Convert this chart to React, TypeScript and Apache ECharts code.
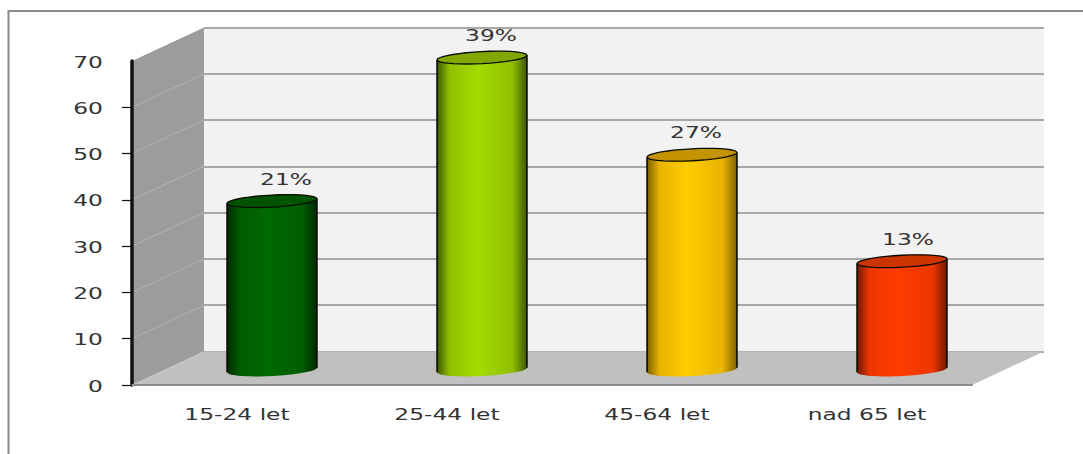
import React, { useEffect, useRef } from "react";
import * as echarts from "echarts";

const categories = ["15-24 let", "25-44 let", "45-64 let", "nad 65 let"];
const values = [36.5, 67.5, 46.5, 23.5];
const valueLabels = ["21%", "39%", "27%", "13%"];
const yTicks = [0, 10, 20, 30, 40, 50, 60, 70];

const edgeColors = ["#002a00", "#3f5800", "#7f6000", "#701800"];
const midColors = ["#005c00", "#8fc000", "#e8b400", "#ee3600"];
const brightColors = ["#006a00", "#a4dc00", "#ffcc00", "#ff3c00"];
const capColors = ["#005400", "#80a800", "#c49400", "#cc3400"];

const labelShiftX = [14, 9, 4, 6];
const DEPTH_X = 72;
const DEPTH_Y = 33.5;
const STRETCH = 1.46;
const FONT = '16px "DejaVu Sans"';
const TILT = (-3 * Math.PI) / 180;

function ellipsePoint(cx: number, cy: number, rx: number, ry: number, t: number) {
  const ex = rx * Math.cos(t);
  const ey = ry * Math.sin(t);
  return [cx + ex * Math.cos(TILT) - ey * Math.sin(TILT), cy + ex * Math.sin(TILT) + ey * Math.cos(TILT)];
}

function arc(cx: number, cy: number, rx: number, ry: number, from: number, to: number) {
  const pts: number[][] = [];
  const n = 36;
  for (let i = 0; i <= n; i++) pts.push(ellipsePoint(cx, cy, rx, ry, from + ((to - from) * i) / n));
  return pts;
}

function stretchedText(text: string, x: number, y: number, align: string) {
  return {
    type: "text",
    x,
    y,
    scaleX: STRETCH,
    z2: 20,
    style: { text, x: 0, y: 0, font: FONT, fill: "#333333", textAlign: align, textVerticalAlign: "middle" },
  };
}

function renderWall(params: any, api: any) {
  const cs = params.coordSys;
  const value = api.value(1);
  const y = api.coord([0, value])[1];
  const children: any[] = [];
  if (params.dataIndex === 0) {
    const bottom = cs.y + cs.height;
    const right = cs.x + cs.width;
    children.push({
      type: "polygon",
      shape: { points: [[cs.x, bottom], [cs.x, cs.y], [cs.x + DEPTH_X, cs.y - DEPTH_Y], [cs.x + DEPTH_X, bottom - DEPTH_Y]] },
      style: { fill: "#9c9c9c" },
    });
    children.push({
      type: "polygon",
      shape: { points: [[cs.x, bottom], [cs.x + DEPTH_X, bottom - DEPTH_Y], [right + DEPTH_X, bottom - DEPTH_Y], [right, bottom]] },
      style: { fill: "#c0c0c0" },
    });
  } else if (value < yTicks[yTicks.length - 1]) {
    children.push({
      type: "line",
      shape: { x1: cs.x, y1: y, x2: cs.x + DEPTH_X, y2: y - DEPTH_Y },
      style: { stroke: "#aeaeae", lineWidth: 1.2 },
    });
  }
  children.push(stretchedText(String(value), cs.x - 29, y + 1, "right"));
  return { type: "group", children };
}

function renderCylinder(params: any, api: any) {
  const i = params.dataIndex;
  const cs = params.coordSys;
  const base = api.coord([api.value(0), 0]);
  const top = api.coord([api.value(0), api.value(1)]);
  const rx = api.size([1, 0])[0] * 0.2143;
  const ry = 6;
  const cx = base[0] + 35;
  const bottomY = base[1] - 15;
  const topY = top[1] - 15;
  const body = [...arc(cx, bottomY, rx, ry, 0, Math.PI), ...arc(cx, topY, rx, ry, Math.PI, 2 * Math.PI)];
  const gradient = new echarts.graphic.LinearGradient(0, 0, 1, 0, [
    { offset: 0, color: edgeColors[i] },
    { offset: 0.14, color: midColors[i] },
    { offset: 0.45, color: brightColors[i] },
    { offset: 0.84, color: midColors[i] },
    { offset: 1, color: edgeColors[i] },
  ]);
  const leftTop = ellipsePoint(cx, topY, rx, ry, Math.PI);
  const leftBottom = ellipsePoint(cx, bottomY, rx, ry, Math.PI);
  const rightTop = ellipsePoint(cx, topY, rx, ry, 0);
  const rightBottom = ellipsePoint(cx, bottomY, rx, ry, 0);
  const side = { stroke: "#0a0a00", lineWidth: 1.6 };
  return {
    type: "group",
    children: [
      { type: "polygon", shape: { points: body }, style: { fill: gradient } },
      { type: "line", shape: { x1: leftTop[0], y1: leftTop[1], x2: leftBottom[0], y2: leftBottom[1] }, style: side },
      { type: "line", shape: { x1: rightTop[0], y1: rightTop[1], x2: rightBottom[0], y2: rightBottom[1] }, style: side },
      {
        type: "polygon",
        shape: { points: arc(cx, topY, rx, ry, 0, 2 * Math.PI) },
        style: { fill: capColors[i], stroke: "#0a0a00", lineWidth: 1.3 },
      },
      stretchedText(valueLabels[i], cx + labelShiftX[i], topY - 22, "center"),
      stretchedText(categories[i], base[0], cs.y + cs.height + 29, "center"),
    ],
  };
}

export default function App() {
  const ref = useRef<HTMLDivElement>(null);
  useEffect(() => {
    const chart = echarts.init(ref.current!, undefined, { renderer: "svg" });
    chart.setOption({
      animation: false,
      backgroundColor: "#ffffff",
      graphic: [
        {
          type: "polyline",
          z: 0,
          shape: { points: [[8.5, 454], [8.5, 11], [1083, 11]] },
          style: { stroke: "#8c8c8c", lineWidth: 2, fill: "none" },
        },
      ],
      grid: [
        { left: 132, top: 61, width: 840, height: 324, show: false },
        { left: 204, top: 27.5, width: 840, height: 324, show: true, backgroundColor: "#f2f2f2", borderWidth: 0 },
      ],
      xAxis: [
        {
          type: "category",
          gridIndex: 0,
          data: categories,
          z: 2,
          axisLine: { lineStyle: { color: "#8c8c8c", width: 2 } },
          axisTick: { length: 6, lineStyle: { color: "#808080", width: 3 } },
          axisLabel: { show: false },
        },
        { type: "category", gridIndex: 1, data: categories, show: false },
      ],
      yAxis: [
        {
          type: "value",
          gridIndex: 0,
          min: 0,
          max: 70,
          interval: 10,
          z: 2,
          axisLine: { show: true, lineStyle: { color: "#111111", width: 3.5 } },
          axisTick: { show: true, length: 10, customValues: yTicks.slice(0, -1), lineStyle: { color: "#111111", width: 1.2 } },
          axisLabel: { show: false },
          splitLine: { show: false },
        },
        {
          type: "value",
          gridIndex: 1,
          min: 0,
          max: 70,
          interval: 10,
          axisLine: { show: false },
          axisTick: { show: false },
          axisLabel: { show: false },
          splitLine: { show: true, lineStyle: { color: "#a8a8a8", width: 2 } },
        },
      ],
      series: [
        {
          type: "custom",
          name: "walls",
          xAxisIndex: 0,
          yAxisIndex: 0,
          z: 1,
          clip: false,
          silent: true,
          data: yTicks.map((t) => [0, t]),
          renderItem: renderWall,
        },
        {
          type: "custom",
          name: "cylinders",
          xAxisIndex: 0,
          yAxisIndex: 0,
          z: 3,
          clip: false,
          silent: true,
          data: values.map((v, i) => [i, v]),
          renderItem: renderCylinder,
        },
      ],
    });
    return () => chart.dispose();
  }, []);
  return <div ref={ref} style={{ position: "fixed", left: 0, top: 0, width: 1083, height: 454 }} />;
}
